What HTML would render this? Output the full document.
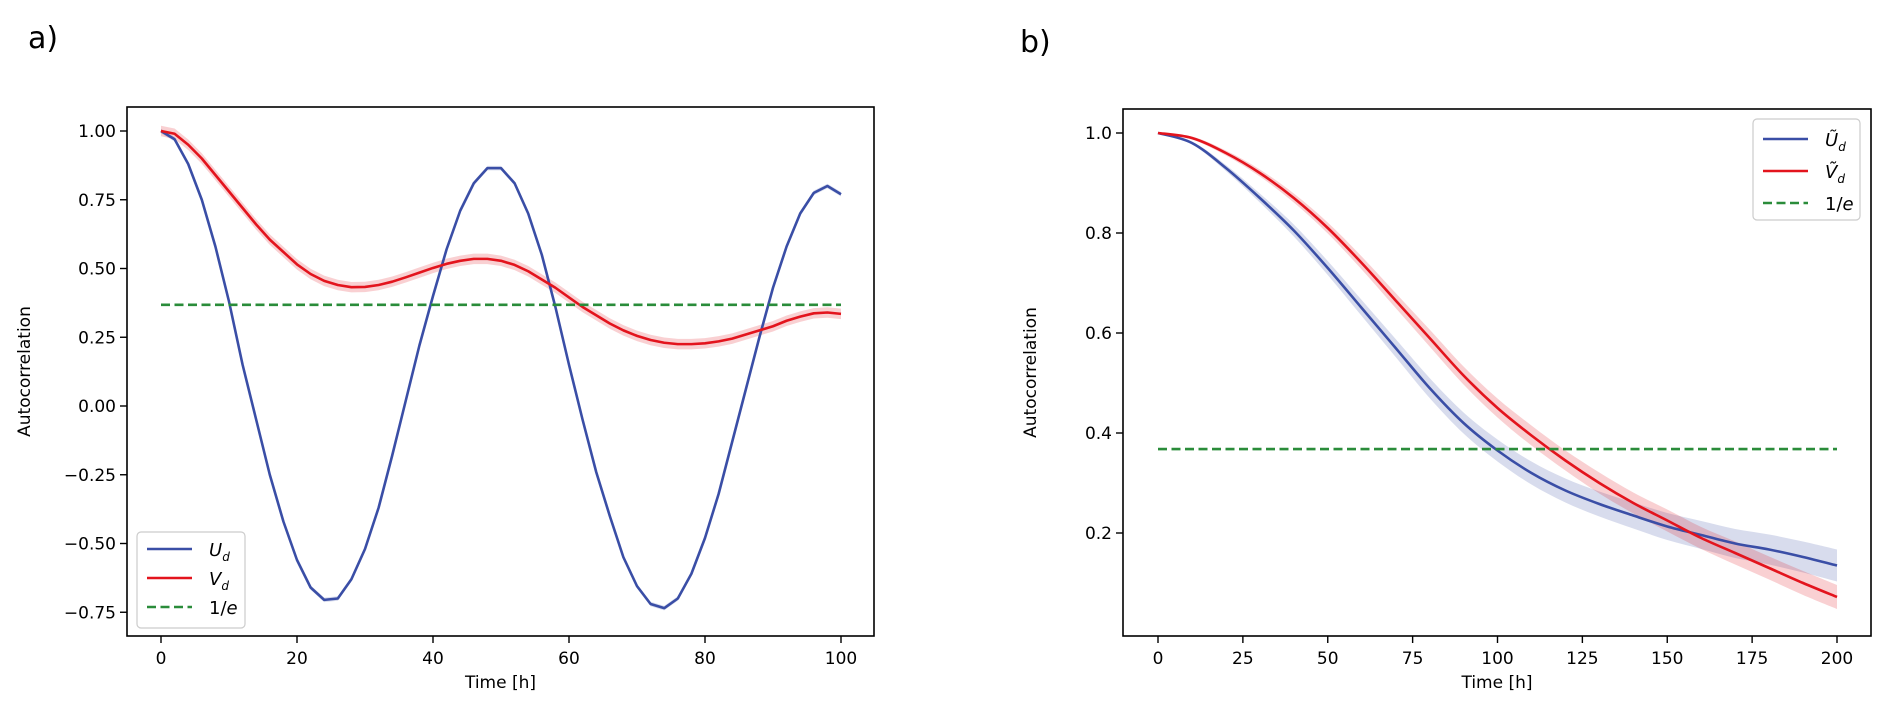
<!DOCTYPE html>
<html><head><meta charset="utf-8">
<style>
body{margin:0;background:#fff;}
svg{display:block;font-family:"DejaVu Sans","Liberation Sans",sans-serif;}
</style></head>
<body>
<svg id="fig" width="1892" height="713" viewBox="0 0 1892 713" xmlns="http://www.w3.org/2000/svg">
<text x="28" y="48" font-size="30">a)</text>
<text x="1020" y="52" font-size="30">b)</text>
<g id="pa"></g>
<g id="pb"></g>
</svg>
<script>
const aTimes=[0,2,4,6,8,10,12,14,16,18,20,22,24,26,28,30,32,34,36,38,40,42,44,46,48,50,52,54,56,58,60,62,64,66,68,70,72,74,76,78,80,82,84,86,88,90,92,94,96,98,100];
const aU=[1.0,0.97,0.88,0.75,0.58,0.38,0.15,-0.05,-0.25,-0.42,-0.56,-0.66,-0.705,-0.70,-0.63,-0.52,-0.37,-0.18,0.02,0.22,0.40,0.57,0.71,0.81,0.865,0.865,0.81,0.70,0.55,0.36,0.15,-0.05,-0.24,-0.40,-0.55,-0.655,-0.72,-0.735,-0.70,-0.61,-0.48,-0.32,-0.13,0.06,0.25,0.43,0.58,0.70,0.775,0.80,0.77];
const aV=[1.0,0.99,0.95,0.90,0.84,0.78,0.72,0.66,0.605,0.56,0.515,0.48,0.455,0.44,0.432,0.433,0.44,0.452,0.468,0.485,0.502,0.517,0.528,0.535,0.535,0.528,0.513,0.49,0.46,0.43,0.395,0.36,0.33,0.30,0.275,0.255,0.24,0.23,0.225,0.225,0.228,0.235,0.245,0.26,0.275,0.29,0.31,0.325,0.337,0.34,0.335];
const aUerr=0.008;
const aVerr=0.019;
const aXTicks=[0,20,40,60,80,100];
const aYTicks=[-0.75,-0.5,-0.25,0,0.25,0.5,0.75,1.0];
const aYLabels=["\u22120.75","\u22120.50","\u22120.25","0.00","0.25","0.50","0.75","1.00"];

const bTimes=[0,10,20,30,40,50,60,70,80,90,100,110,120,130,140,150,160,170,180,190,200];
const bU=[1.0,0.98,0.93,0.87,0.805,0.73,0.65,0.57,0.49,0.42,0.365,0.32,0.285,0.258,0.235,0.213,0.196,0.179,0.167,0.152,0.135];
const bV=[1.0,0.99,0.96,0.92,0.87,0.81,0.74,0.665,0.59,0.515,0.45,0.395,0.345,0.30,0.26,0.225,0.19,0.16,0.13,0.10,0.072];
const bUerr=[0,0.003,0.006,0.009,0.012,0.014,0.016,0.018,0.02,0.021,0.022,0.023,0.024,0.025,0.026,0.027,0.028,0.029,0.03,0.031,0.032];
const bVerr=[0,0.003,0.005,0.007,0.009,0.011,0.013,0.015,0.017,0.018,0.019,0.02,0.02,0.021,0.021,0.022,0.022,0.023,0.023,0.024,0.024];
const bXTicks=[0,25,50,75,100,125,150,175,200];
const bYTicks=[0.2,0.4,0.6,0.8,1.0];
const bYLabels=["0.2","0.4","0.6","0.8","1.0"];
const invE=0.3679;

const NS="http://www.w3.org/2000/svg";
const BLUE="#3a4ea6",RED="#e3141d",GREEN="#2a8c3a";
function mk(parent,tag,attrs){const e=document.createElementNS(NS,tag);for(const k in attrs)e.setAttribute(k,attrs[k]);parent.appendChild(e);return e;}
function linePath(xs,ys,sx,sy){return xs.map((x,i)=>(i?"L":"M")+sx(x).toFixed(2)+","+sy(ys[i]).toFixed(2)).join("");}
function smoothPts(xs,ys,sx,sy){const p=xs.map((x,i)=>[sx(x),sy(ys[i])]);let d="M"+p[0][0]+","+p[0][1];
 for(let i=0;i<p.length-1;i++){const p0=p[Math.max(i-1,0)],p1=p[i],p2=p[i+1],p3=p[Math.min(i+2,p.length-1)];
 d+="C"+(p1[0]+(p2[0]-p0[0])/6)+","+(p1[1]+(p2[1]-p0[1])/6)+" "+(p2[0]-(p3[0]-p1[0])/6)+","+(p2[1]-(p3[1]-p1[1])/6)+" "+p2[0]+","+p2[1];}return d;}
function band(xs,lo,hi,sx,sy,smooth){
 if(smooth){const up=smoothPts(xs,hi,sx,sy);const rx=xs.slice().reverse(),rl=lo.slice().reverse();const dn=smoothPts(rx,rl,sx,sy).replace(/^M/,"L");return up+dn+"Z";}
 let d=xs.map((x,i)=>(i?"L":"M")+sx(x)+","+sy(hi[i])).join("");for(let i=xs.length-1;i>=0;i--)d+="L"+sx(xs[i])+","+sy(lo[i]);return d+"Z";}

function panel(g,cfg){
 const {L,T,R,B,x0,x1,px0,px1,y0,y1,py0,py1}=cfg;
 const sx=v=>px0+(v-x0)*(px1-px0)/(x1-x0);
 const sy=v=>py0+(v-y0)*(py1-py0)/(y1-y0);
 const err=(a,e,s)=>a.map((v,i)=>v+s*(Array.isArray(e)?e[i]:e));
 const b1=mk(g,"path",{d:band(cfg.xs,err(cfg.U,cfg.Ue,-1),err(cfg.U,cfg.Ue,1),sx,sy,cfg.smooth),fill:BLUE,"fill-opacity":"0.2",stroke:"none"});
 
 
 const b2=mk(g,"path",{d:band(cfg.xs,err(cfg.V,cfg.Ve,-1),err(cfg.V,cfg.Ve,1),sx,sy,cfg.smooth),fill:RED,"fill-opacity":"0.2",stroke:"none"});
 
 
 const pd=cfg.smooth?smoothPts:linePath;
 const l1=mk(g,"path",{d:pd(cfg.xs,cfg.U,sx,sy),fill:"none",stroke:BLUE,"stroke-width":"2.6","stroke-linejoin":"round"});
 
 
 const l2=mk(g,"path",{d:pd(cfg.xs,cfg.V,sx,sy),fill:"none",stroke:RED,"stroke-width":"2.6","stroke-linejoin":"round"});
 
 
 const l3=mk(g,"line",{x1:sx(x0),x2:sx(x1),y1:sy(invE),y2:sy(invE),stroke:GREEN,"stroke-width":"2.6","stroke-dasharray":"9,4.5"});
 
 
 const fr=mk(g,"rect",{x:L,y:T,width:R-L,height:B-T,fill:"none",stroke:"#000","stroke-width":"1.6"});
 
 
 cfg.xt.forEach(v=>{const x=sx(v);mk(g,"line",{x1:x,x2:x,y1:B,y2:B+7,stroke:"#000","stroke-width":"1.4"});
  const t=mk(g,"text",{x:x,y:B+28,"font-size":"17","text-anchor":"middle"});t.textContent=String(v);
  
  });
 cfg.yt.forEach((v,i)=>{const y=sy(v);mk(g,"line",{x1:L-7,x2:L,y1:y,y2:y,stroke:"#000","stroke-width":"1.4"});
  const t=mk(g,"text",{x:L-11,y:y+6,"font-size":"17","text-anchor":"end"});t.textContent=cfg.yl[i];
  
  });
 const xt=mk(g,"text",{x:(L+R)/2,y:B+52,"font-size":"17","text-anchor":"middle"});xt.textContent="Time [h]";
 
 
 const yt=mk(g,"text",{x:0,y:0,"font-size":"17","text-anchor":"middle",transform:`translate(${cfg.ylx},${(T+B)/2}) rotate(-90)`});yt.textContent="Autocorrelation";
 
 
 const lg=cfg.leg;
 const lb=mk(g,"rect",{x:lg.x,y:lg.y,width:lg.w,height:lg.h,rx:"4",fill:"#fff","fill-opacity":"0.85",stroke:"#ccc","stroke-width":"1.2"});
 
 
 const items=[[BLUE,null,cfg.names[0]],[RED,null,cfg.names[1]],[GREEN,"9,4.5",'1/<tspan font-style="italic">e</tspan>']];
 items.forEach((it,i)=>{const y=lg.y+lg.first+i*lg.step;
  const a={x1:lg.x+10,x2:lg.x+55,y1:y,y2:y,stroke:it[0],"stroke-width":"2.6"};if(it[1])a["stroke-dasharray"]=it[1];
  const s=mk(g,"line",a);
  
  
  const t=mk(g,"text",{x:lg.x+72,y:y+7,"font-size":"18"});
  
  
  t.innerHTML=it[2];});
}
panel(document.getElementById("pa"),{L:127,T:107,R:874,B:636,x0:0,x1:100,px0:161,px1:841,y0:0,y1:1,py0:406,py1:131,
 xs:aTimes,U:aU,V:aV,Ue:aUerr,Ve:aVerr,smooth:false,xt:aXTicks,yt:aYTicks,yl:aYLabels,ylx:30,
 names:['<tspan font-style="italic">U</tspan><tspan font-size="12" dy="5" font-style="italic">d</tspan>','<tspan font-style="italic">V</tspan><tspan font-size="12" dy="5" font-style="italic">d</tspan>'],
 leg:{x:137,y:532,w:108,h:96,first:17,step:29}});
panel(document.getElementById("pb"),{L:1123,T:109,R:1871,B:636,x0:0,x1:200,px0:1158,px1:1837,y0:0,y1:1,py0:633,py1:133,
 xs:bTimes,U:bU,V:bV,Ue:bUerr,Ve:bVerr,smooth:true,xt:bXTicks,yt:bYTicks,yl:bYLabels,ylx:1036,
 names:['<tspan font-style="italic">Ũ</tspan><tspan font-size="12" dy="5" font-style="italic">d</tspan>','<tspan font-style="italic">Ṽ</tspan><tspan font-size="12" dy="5" font-style="italic">d</tspan>'],
 leg:{x:1753,y:119,w:107,h:101,first:20,step:32}});
</script>
</body></html>
